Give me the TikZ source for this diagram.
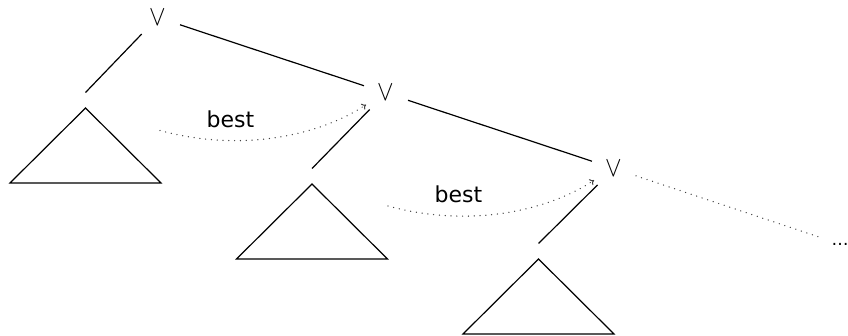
\documentclass[tikz,border=0pt]{standalone}
\usepackage{fontspec}
\setsansfont{DejaVu Sans}
\usetikzlibrary{arrows.meta}
\begin{document}
\begin{tikzpicture}[x=1pt, y=-1pt,
  ornode/.style={circle, minimum size=28pt, inner sep=0pt,
    font=\fontsize{29}{29}\selectfont},
  dotsnode/.style={inner sep=1pt, font=\sffamily\fontsize{17}{17}\selectfont},
  spine/.style={line width=1.2pt},
  subtree/.style={line width=1.2pt, line join=miter},
  lazy/.style={black!75, line width=1.4pt, dash pattern=on 0.01pt off 5.8pt, line cap=round},
  bestarrow/.style={lazy, -{To[length=4pt, width=7pt, line width=1pt]}},
  lbl/.style={font=\sffamily\fontsize{22}{22}\selectfont, inner sep=0pt, anchor=base}]
  \useasboundingbox (0,0) rectangle (848,335);

  % disjunction nodes along the spine, and the elided rest
  \node[ornode] (v1) at (158,17.5) {\scalebox{1}[1.15]{$\vee$}};
  \node[ornode] (v2) at (386,93) {\scalebox{1}[1.15]{$\vee$}};
  \node[ornode] (v3) at (614,168.5) {\scalebox{1}[1.15]{$\vee$}};
  \node[dotsnode] (v4) at (840,244) {…};

  \draw[spine, shorten <=9pt, shorten >=9pt] (v1) -- (v2);
  \draw[spine, shorten <=9pt, shorten >=9pt] (v2) -- (v3);
  \draw[lazy, shorten <=9pt, shorten >=14pt] (v3) -- (v4);

  % apexes of the subtrees and the ends of their edges
  \coordinate (t1) at (85.5,108);
  \coordinate (t2) at (312,184);
  \coordinate (t3) at (538.5,259);
  \coordinate (c1) at (85.5,92.5);
  \coordinate (c2) at (312,168.5);
  \coordinate (c3) at (538.5,243.5);

  \draw[spine, shorten <=9pt] (v1.-135) -- (c1);
  \draw[spine, shorten <=9pt] (v2.-135) -- (c2);
  \draw[spine, shorten <=9pt] (v3.-135) -- (c3);

  \foreach \t in {t1,t2,t3}
    \draw[subtree] (\t) -- ++(-75.5,75) -- ++(151,0) -- cycle;

  % best-choice arrows
  \coordinate (s1) at (160,130.5);
  \coordinate (s2) at (388,206);
  \draw[bestarrow, shorten >=9pt] (s1) .. controls +(90,24.5) and +(-46,31) .. (v2.-152);
  \draw[bestarrow, shorten >=9pt] (s2) .. controls +(90,24.5) and +(-46,31) .. (v3.-152);
  \node[lbl] (l1) at (230.5,127) {best};
  \node[lbl] (l2) at (458.5,202.5) {best};
\end{tikzpicture}
\end{document}
